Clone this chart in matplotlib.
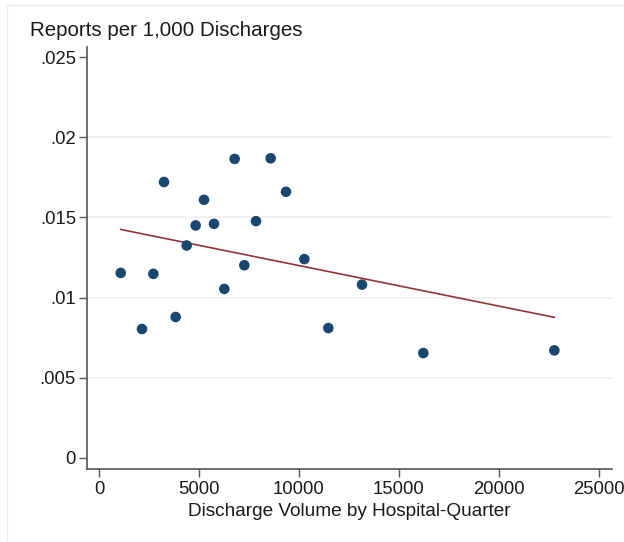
import matplotlib
matplotlib.use("Agg")
import matplotlib.pyplot as plt
from matplotlib.patches import Rectangle

volume = [1085, 2150, 2717, 3250, 3833, 4383, 4833, 5250, 5750, 6267,
          6783, 7267, 7850, 8583, 9350, 10267, 11467, 13150, 16217, 22767]
reports = [0.01154, 0.00804, 0.01148, 0.01721, 0.00879, 0.01325, 0.01450, 0.01610,
           0.01460, 0.01054, 0.01865, 0.01202, 0.01477, 0.01869, 0.01660, 0.01240,
           0.00810, 0.01081, 0.00654, 0.00671]
fit_x = [1085, 22767]
fit_y = [0.01425, 0.00877]

y_ticks = [0, 0.005, 0.01, 0.015, 0.02, 0.025]
y_labels = ["0", ".005", ".01", ".015", ".02", ".025"]
x_ticks = [0, 5000, 10000, 15000, 20000, 25000]
x_labels = ["0", "5000", "10000", "15000", "20000", "25000"]

plt.rcParams['font.family'] = ['Liberation Sans', 'DejaVu Sans']

fig = plt.figure(figsize=(6.24, 5.42), dpi=100)
fig.patches.append(Rectangle((7/624, 0), 1, 1 - 5/542, transform=fig.transFigure,
                             fill=False, edgecolor='#ececec', linewidth=1))
ax = fig.add_axes([87/624, 73/542, 525/624, 422/542])

for yv in y_ticks[1:-1]:
    ax.axhline(yv, color='#efefef', linewidth=1.2, zorder=0)

ax.plot(fit_x, fit_y, color='#90353b', linewidth=1.2, zorder=2)
ax.scatter(volume, reports, s=58, color='#1a476f', edgecolors='none', zorder=3)

ax.set_xlim(-600, 25650)
ax.set_ylim(-0.00069, 0.02563)
ax.set_xticks(x_ticks)
ax.set_xticklabels(x_labels)
ax.set_yticks(y_ticks)
ax.set_yticklabels(y_labels)

for s in ['top', 'right']:
    ax.spines[s].set_visible(False)
for s in ['left', 'bottom']:
    ax.spines[s].set_color('#555555')
    ax.spines[s].set_linewidth(1.2)
ax.tick_params(axis='both', direction='out', length=6, width=1, color='#555555',
               labelsize=13.3, labelcolor='#1a1a1a', pad=2)
ax.tick_params(axis='x', pad=3)

ax.set_xlabel("Discharge Volume by Hospital-Quarter", fontsize=13.7, color='#1a1a1a', labelpad=3)
fig.text(30/624, 1 - 31/542, "Reports per 1,000 Discharges", fontsize=14.8, color='#1a1a1a',
         ha='left', va='center')

fig.savefig("out.png", dpi=100, facecolor='white')
